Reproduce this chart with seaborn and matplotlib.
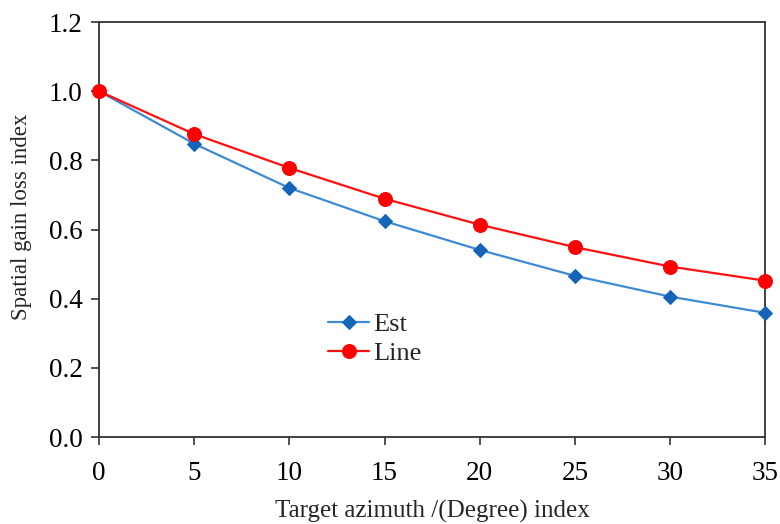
import matplotlib.pyplot as plt
import pandas as pd
import seaborn as sns

# values
azimuth = [0, 5, 10, 15, 20, 25, 30, 35]
est = [1.0, 0.848, 0.72, 0.624, 0.541, 0.466, 0.406, 0.359]
line = [1.0, 0.876, 0.778, 0.689, 0.614, 0.549, 0.493, 0.452]

df = pd.DataFrame({'azimuth': azimuth, 'Est': est, 'Line': line})

sns.set_style('ticks')
plt.rcParams['font.family'] = ['Liberation Serif', 'DejaVu Serif']

fig = plt.figure(figsize=(7.8, 5.24), dpi=100)
ax = fig.add_axes([0.127, 0.166, 0.854, 0.792])

sns.lineplot(data=df, x='azimuth', y='Est', ax=ax, color='#3d8ad6', linewidth=1.6,
             marker='D', markersize=7, markerfacecolor='#1464b8', markeredgecolor='#1464b8',
             label='Est', clip_on=False, zorder=3)
sns.lineplot(data=df, x='azimuth', y='Line', ax=ax, color='#ff1010', linewidth=1.6,
             marker='o', markersize=10, markerfacecolor='#ff0000', markeredgecolor='#ff0000',
             label='Line', clip_on=False, zorder=4)

ax.set_xlim(0, 35)
ax.set_ylim(0, 1.2)
ax.set_xticks(azimuth)
ax.set_yticks([0.0, 0.2, 0.4, 0.6, 0.8, 1.0, 1.2])
ax.yaxis.set_major_formatter(plt.FuncFormatter(lambda v, pos: f"{v:.1f}"))
ax.tick_params(axis='both', labelsize=19.5, direction='out', length=6, width=1.2, colors='#333333',
               labelcolor='black')
ax.tick_params(axis='x', pad=11)
ax.tick_params(axis='y', pad=6)

for s in ax.spines.values():
    s.set_linewidth(1.3)
    s.set_color('#333333')

ax.set_xlabel('Target azimuth /(Degree) index', fontsize=18, labelpad=10)
ax.set_ylabel('Spatial gain loss index', fontsize=16.5)
ax.yaxis.set_label_coords(-0.1, 0.53)

ax.legend(loc='upper left', bbox_to_anchor=(0.344, 0.3), frameon=False, fontsize=19,
          handlelength=1.55, handletextpad=0.15, labelspacing=0.22, borderaxespad=0, borderpad=0)

fig.savefig('out.png', dpi=100)
